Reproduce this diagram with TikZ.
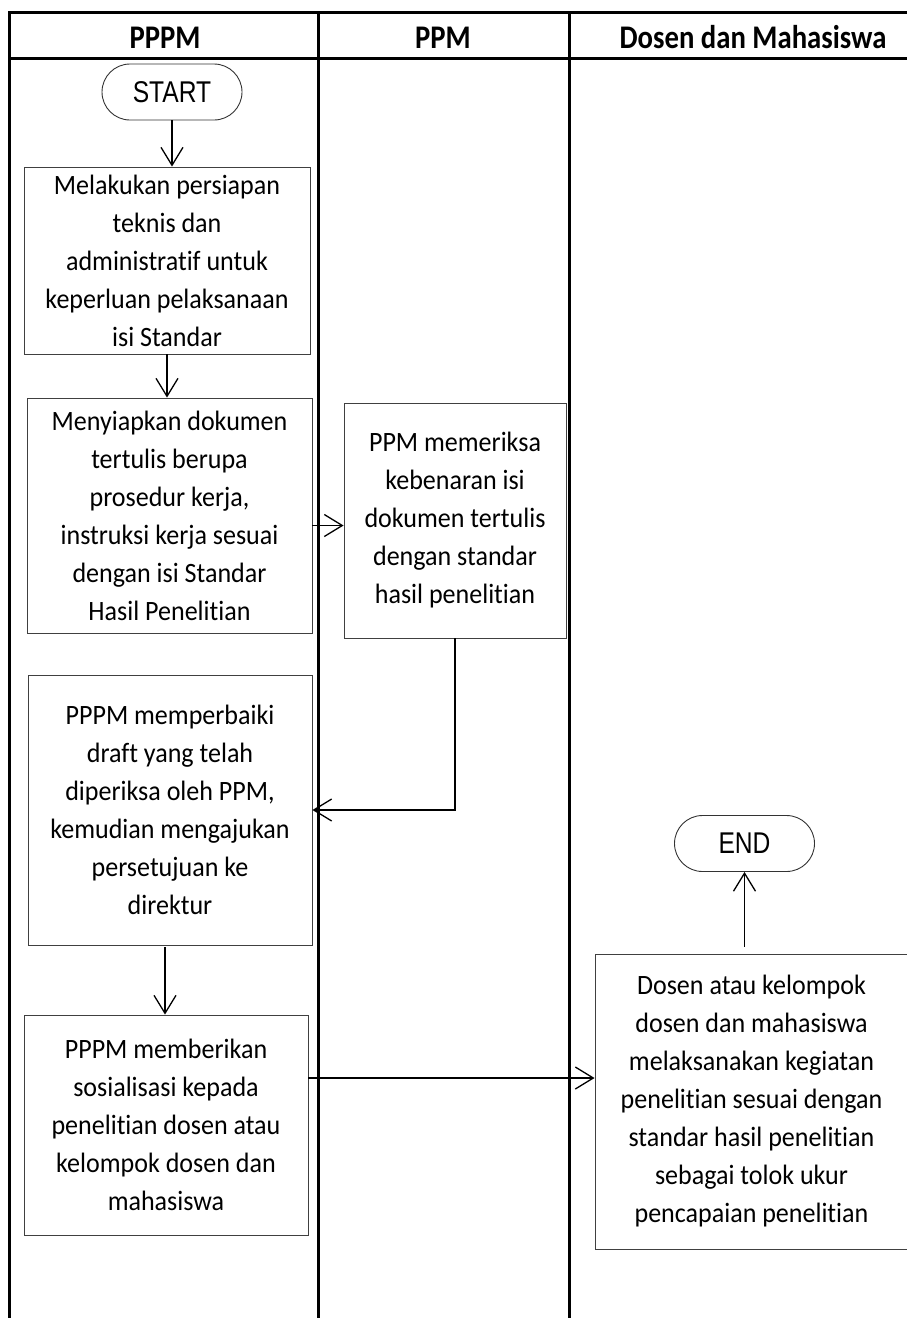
\documentclass[tikz,border=0pt]{standalone}
\usepackage{fontspec}
\setmainfont{Carlito}[FakeStretch=0.93, RawFeature={-liga}]
\newfontfamily\headfont{Carlito}[FakeStretch=0.87, RawFeature={-liga}]
\newfontfamily\termfont{Liberation Sans}[FakeStretch=0.82]
\usetikzlibrary{arrows.meta}

\begin{document}
\begin{tikzpicture}[
  x=1pt, y=-1pt,
  lane/.style={line width=3pt, line cap=rect},
  headnode/.style={font=\headfont\fontsize{33}{38}\selectfont\bfseries, inner sep=0pt, anchor=base},
  termnode/.style={rectangle, rounded corners=28pt, draw=black!80, line width=0.9pt, minimum width=140pt, minimum height=56pt, inner sep=0pt, font=\termfont\fontsize{30}{34}\selectfont},
  stepbox/.style={rectangle, draw=black!75, line width=0.9pt, align=center, inner sep=0pt, font=\fontsize{28}{38}\selectfont},
  flow/.style={line width=1.3pt, -{Straight Barb[length=18pt,width=22pt,line width=1.3pt]}}
]
\useasboundingbox (0,0) rectangle (907,1318);

%Lanes
\draw[lane] (907,12) -- (9,12) -- (9,1318);
\draw[lane] (9,58) -- (907,58);
\draw[lane] (318,12) -- (318,1318);
\draw[lane] (569,12) -- (569,1318);

\node[headnode] (hpppm) at (165,48) {PPPM};
\node[headnode] (hppm) at (443,48) {PPM};
\node[headnode] (hdosen) at (753,48) {Dosen dan Mahasiswa};

%Nodes
\node[termnode] (start) at (172,92) {START};
\node[stepbox, minimum width=286pt, minimum height=187pt] (prep) at (167,260.5)
  {Melakukan persiapan\\ teknis dan\\ administratif untuk\\ keperluan pelaksanaan\\ isi Standar};
\node[stepbox, minimum width=285pt, minimum height=235pt] (dok) at (169.5,515.5)
  {Menyiapkan dokumen\\ tertulis berupa\\ prosedur kerja,\\ instruksi kerja sesuai\\ dengan isi Standar\\ Hasil Penelitian};
\node[stepbox, minimum width=222pt, minimum height=235pt] (periksa) at (455,520.5)
  {PPM memeriksa\\ kebenaran isi\\ dokumen tertulis\\ dengan standar\\ hasil penelitian};
\node[stepbox, minimum width=284pt, minimum height=270pt] (perbaiki) at (170,810)
  {PPPM memperbaiki\\ draft yang telah\\ diperiksa oleh PPM,\\ kemudian mengajukan\\ persetujuan ke\\ direktur};
\node[stepbox, minimum width=284pt, minimum height=220pt] (sosial) at (166,1125)
  {PPPM memberikan\\ sosialisasi kepada\\ penelitian dosen atau\\ kelompok dosen dan\\ mahasiswa};
\node[stepbox, minimum width=313pt, minimum height=295pt] (laksana) at (751.5,1101.5)
  {Dosen atau kelompok\\ dosen dan mahasiswa\\ melaksanakan kegiatan\\ penelitian sesuai dengan\\ standar hasil penelitian\\ sebagai tolok ukur\\ pencapaian penelitian};
\node[termnode] (end) at (744.5,843.5) {END};

%Arrows
\draw[flow] (start.south) -- (start.south |- prep.north);
\draw[flow] (prep.south) -- (prep.south |- dok.north);
\draw[flow] ([yshift=-10pt]dok.east) -- ([yshift=-10pt]dok.east -| periksa.west);
\draw[flow] (periksa.south) |- (perbaiki.east);
\draw[flow, shorten <=2pt] ([xshift=-5pt]perbaiki.south) -- ([xshift=-5pt]perbaiki.south |- sosial.north);
\draw[flow] ([yshift=47pt]sosial.east) -- ([yshift=47pt]sosial.east -| laksana.west);
\draw[flow, shorten <=7pt] (end.south |- laksana.north) -- (end.south);
\end{tikzpicture}
\end{document}
